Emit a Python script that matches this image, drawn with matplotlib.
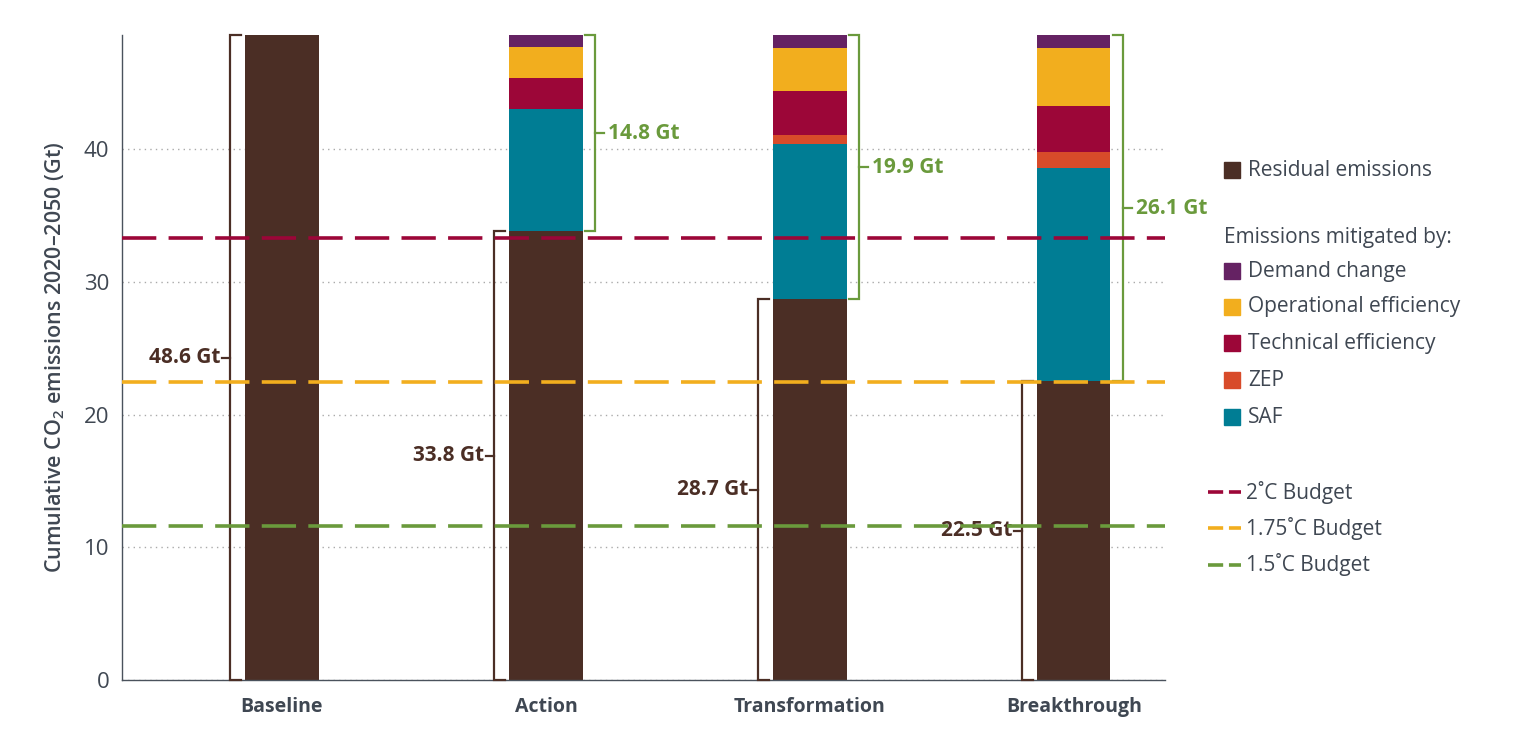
import numpy as np
import matplotlib.pyplot as plt
from matplotlib.patches import Rectangle
from matplotlib.lines import Line2D

plt.rcParams['font.family'] = ['Open Sans', 'DejaVu Sans']
plt.rcParams['mathtext.fontset'] = 'custom'
plt.rcParams['mathtext.rm'] = 'Open Sans'

# data (Gt CO2, cumulative 2020-2050)
scenarios = ['Baseline', 'Action', 'Transformation', 'Breakthrough']
residual = [48.6, 33.8, 28.7, 22.5]
saf = [0.0, 9.2, 11.7, 16.1]
zep = [0.0, 0.0, 0.7, 1.2]
tech_eff = [0.0, 2.35, 3.3, 3.45]
oper_eff = [0.0, 2.35, 3.2, 4.35]
demand = [0.0, 0.9, 1.0, 1.0]
mitigated_labels = ['', '14.8 Gt', '19.9 Gt', '26.1 Gt']
residual_labels = ['48.6 Gt', '33.8 Gt', '28.7 Gt', '22.5 Gt']
budgets = [33.3, 22.45, 11.6]
budget_names = ['2˚C Budget', '1.75˚C Budget', '1.5˚C Budget']

c_res = '#4B2E25'
c_saf = '#007D94'
c_zep = '#D84B2A'
c_tech = '#9C0638'
c_oper = '#F2AE1E'
c_dem = '#652263'
c_green = '#6A9A3C'
budget_cols = [c_tech, c_oper, c_green]
c_txt = '#3F4752'

fig = plt.figure(figsize=(15.18, 7.46), dpi=100)
ax = fig.add_axes([122/1518, 1-680/746, (1165-122)/1518, (680-35)/746])

x = np.arange(len(scenarios))
w = 0.277
stack = [(residual, c_res), (saf, c_saf), (zep, c_zep), (tech_eff, c_tech),
         (oper_eff, c_oper), (demand, c_dem)]
bottom = np.zeros(len(x))
for vals, col in stack:
    ax.bar(x, vals, w, bottom=bottom, color=col, zorder=2)
    bottom = bottom + np.array(vals)

# budget lines
for b, col in zip(budgets, budget_cols):
    ax.axhline(b, color=col, lw=2.6, ls=(0, (9.5, 3.4)), zorder=4)

# brackets
d = 0.058   # offset from bar edge
e = 0.040   # end tick length
m = 0.032   # middle tick length
for i, (r, tot) in enumerate(zip(residual, bottom)):
    xl = x[i] - w/2 - d
    ax.plot([xl + e, xl, xl, xl + e], [0, 0, r, r], color=c_res, lw=1.6,
            zorder=3, solid_joinstyle='miter', clip_on=False)
    ax.plot([xl - m, xl], [r/2, r/2], color=c_res, lw=1.6, zorder=3)
    ax.text(xl - m - 0.006, r/2, residual_labels[i], ha='right', va='center',
            color=c_res, fontsize=15, fontweight='bold')
    if tot - r > 0.01:
        xr = x[i] + w/2 + d - 0.01
        ax.plot([xr - e, xr, xr, xr - e], [r, r, tot, tot], color=c_green,
                lw=1.6, zorder=3, solid_joinstyle='miter', clip_on=False)
        mid = (r + tot) / 2
        ax.plot([xr, xr + m], [mid, mid], color=c_green, lw=1.6, zorder=3)
        ax.text(xr + m + 0.016, mid, mitigated_labels[i], ha='left',
                va='center', color=c_green, fontsize=15, fontweight='bold')

ax.set_xlim(-0.606, 3.345)
ax.set_ylim(0, 48.6)
ax.set_yticks([0, 10, 20, 30, 40])
ax.yaxis.grid(True, ls=(0, (1, 3)), color='#AAAAAA', lw=1.0, zorder=0)
ax.set_axisbelow(True)
ax.set_xticks(x)
ax.set_xticklabels(scenarios, fontsize=14, fontweight='bold', color=c_txt)
ax.tick_params(axis='both', length=0, pad=12)
ax.tick_params(axis='y', labelsize=16, labelcolor=c_txt, pad=9)
for s in ['top', 'right']:
    ax.spines[s].set_visible(False)
for s in ['left', 'bottom']:
    ax.spines[s].set_color('#4A525C')
    ax.spines[s].set_linewidth(1.0)
ax.set_ylabel('Cumulative CO$_\\mathregular{2}$ emissions 2020–2050 (Gt)',
              fontsize=15.5, fontweight='semibold', color=c_txt, labelpad=12)

# legend drawn manually
def fx(px):
    return px / 1518
def fy(py):
    return 1 - py / 746

patch_items = [('Residual emissions', c_res, 170),
               ('Demand change', c_dem, 271),
               ('Operational efficiency', c_oper, 307),
               ('Technical efficiency', c_tech, 343),
               ('ZEP', c_zep, 380),
               ('SAF', c_saf, 417)]
for lab, col, py in patch_items:
    fig.add_artist(Rectangle((fx(1224), fy(py + 8)), fx(16), 16/746,
                             color=col, transform=fig.transFigure))
    fig.text(fx(1248), fy(py), lab, ha='left', va='center', fontsize=15,
             color=c_txt)
fig.text(fx(1224), fy(237), 'Emissions mitigated by:', ha='left',
         va='center', fontsize=15, color=c_txt)
for lab, col, py in zip(budget_names, budget_cols, [492, 528, 565]):
    fig.add_artist(Line2D([fx(1208), fx(1241)], [fy(py), fy(py)], color=col,
                          lw=2.6, ls=(0, (4.2, 1.6)),
                          transform=fig.transFigure))
    fig.text(fx(1246), fy(py), lab, ha='left', va='center', fontsize=15,
             color=c_txt)

fig.savefig('out.png', dpi=100)
